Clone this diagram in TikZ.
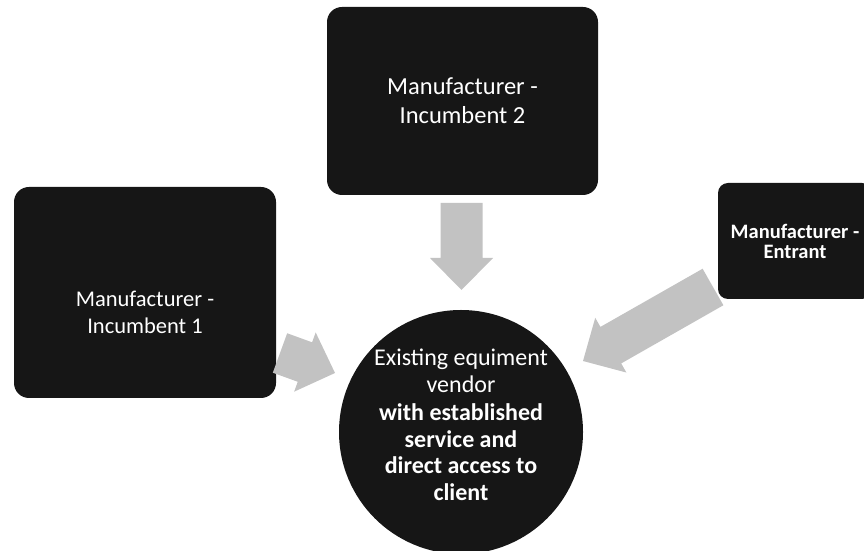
\documentclass[tikz,border=0pt]{standalone}
\usepackage{fontspec}
\setmainfont{Carlito}
\usetikzlibrary{calc}

\definecolor{boxfill}{HTML}{161616}
\definecolor{arrowgray}{HTML}{C2C2C2}

\tikzset{
  darkbox/.style={fill=boxfill, draw=none, rounded corners=15pt},
  boxtext/.style={text=white, align=center},
  hub/.style={circle, fill=boxfill, draw=none},
  flow/.style={fill=arrowgray, draw=none}
}

% block arrow from #1 (tail) to #2 (tip)
\newcommand\flowarrow[2]{%
  \fill[flow] let \p1=(#1), \p2=(#2),
      \n1={atan2(\y2-\y1,\x2-\x1)},
      \n2={veclen(\x2-\x1,\y2-\y1)} in
    [shift={(\p1)}, rotate=\n1]
    (0,-21) -- (\n2-32,-21) -- (\n2-32,-31.5) -- (\n2,0)
    -- (\n2-32,31.5) -- (\n2-32,21) -- (0,21) -- cycle;}

\begin{document}
\begin{tikzpicture}[x=1pt, y=1pt]
  \useasboundingbox (0,0) rectangle (864,551);
  \clip (0,0) rectangle (864,551);

  % suppliers
  \node[darkbox, minimum width=271pt, minimum height=188pt] (inc2) at (462.5,450) {};
  \node[boxtext, font=\fontsize{24.5}{29}\selectfont] (inc2text) at (inc2.center)
    {Manufacturer -\\Incumbent 2};

  \node[darkbox, minimum width=262pt, minimum height=211pt] (inc1) at (145,258.5) {};
  \node[boxtext, font=\fontsize{22.5}{27}\selectfont] (inc1text) at (145,239)
    {Manufacturer -\\Incumbent 1};

  \node[darkbox, rounded corners=10pt, minimum width=154pt, minimum height=116pt] (entrant) at (795,310) {};
  \node[boxtext, font=\bfseries\fontsize{20.5}{20}\selectfont] (entranttext) at (entrant.center)
    {Manufacturer -\\Entrant};

  % vendor in the middle
  \node[hub, minimum size=244pt] (vendor) at (461,119) {};
  \node[boxtext, font=\fontsize{24}{26.5}\selectfont] (vendortext) at (461,126)
    {Existing equiment\\vendor\\[2pt]
     \textbf{with established}\\\textbf{service and}\\
     \textbf{direct access to}\\\textbf{client}};

  % arrow end points
  \coordinate (d2tail) at (461.5,348);
  \coordinate (d2tip)  at (461.5,261);
  \coordinate (d1tail) at (280,198);
  \coordinate (d1tip)  at (335,178);
  \coordinate (detail) at (713,264);
  \coordinate (detip)  at (583,190);

  \flowarrow{d2tail}{d2tip}
  \flowarrow{d1tail}{d1tip}
  \flowarrow{detail}{detip}
\end{tikzpicture}
\end{document}
